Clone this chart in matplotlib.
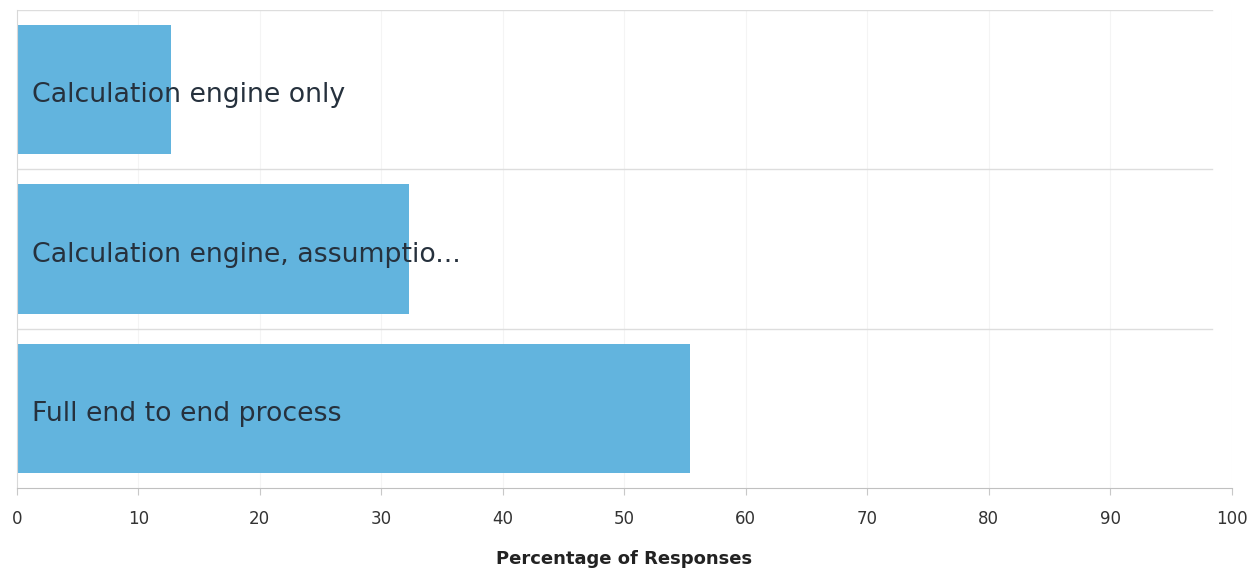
import matplotlib.pyplot as plt

# Survey answers, top to bottom
categories = ['Calculation engine only',
              'Calculation engine, assumptio...',
              'Full end to end process']
percent = [12.7, 32.3, 55.4]
ticks = [0, 10, 20, 30, 40, 50, 60, 70, 80, 90, 100]

fig = plt.figure(figsize=(12.53, 5.73), dpi=100)
ax = fig.add_axes([16.8 / 1253, 85 / 573, (1231.7 - 16.8) / 1253, 478 / 573])

ypos = list(range(len(categories)))[::-1]
ax.barh(ypos, percent, height=0.81, color='#62b4de', zorder=2)

for y, name in zip(ypos, categories):
    ax.text(1.25, y - 0.035, name, va='center', ha='left', fontsize=19.3,
            color='#26313d', zorder=3)

# faint vertical grid and row separators
for t in ticks[1:]:
    ax.axvline(t, color='#f4f4f4', lw=0.8, zorder=0)
for b in [0.5, 1.5, 2.5]:
    ax.plot([0, 98.4], [b, b], color='#dddddd', lw=1, zorder=1)

ax.set_xlim(0, 100)
ax.set_ylim(-0.5, 2.5)
ax.set_xticks(ticks)
ax.set_yticks([])
ax.tick_params(axis='x', length=5, color='#c8c8c8', labelsize=12,
               labelcolor='#333333', pad=11)
for s in ['top', 'right']:
    ax.spines[s].set_visible(False)
ax.spines['bottom'].set_color('#c0c0c0')
ax.spines['left'].set_color('#d8d8d8')
ax.set_xlabel('Percentage of Responses', fontsize=13, fontweight='bold',
              color='#222222', labelpad=16)

fig.savefig('out.png', dpi=100)
